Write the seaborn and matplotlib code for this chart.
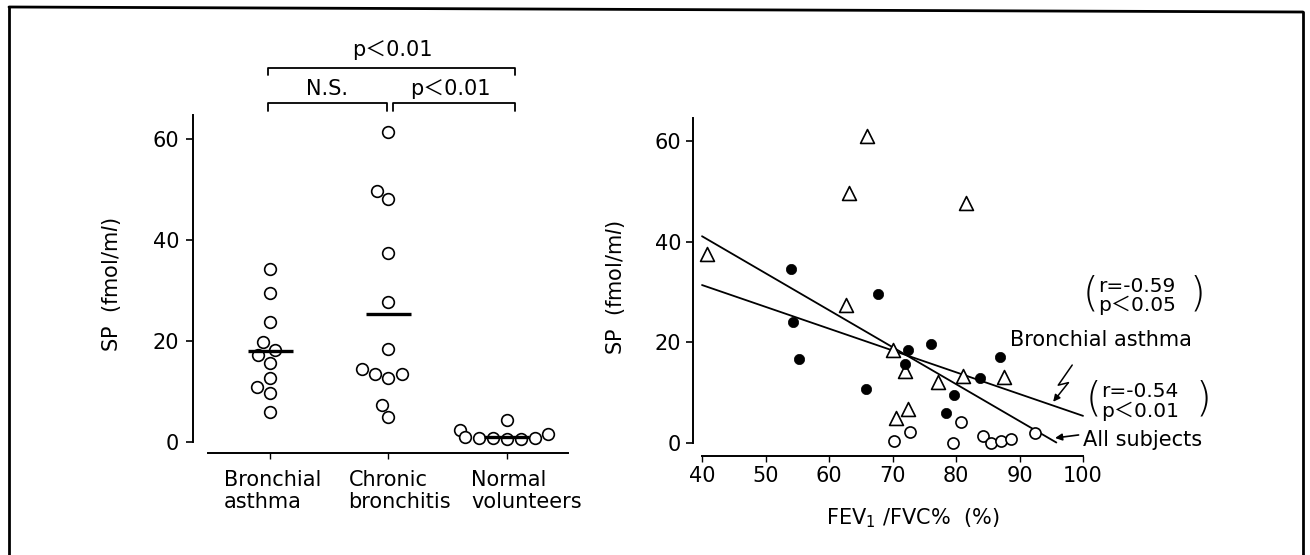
import matplotlib
matplotlib.use("Agg")
import matplotlib.pyplot as plt
from matplotlib.lines import Line2D
import matplotlib.transforms as mtransforms
import numpy as np
import pandas as pd
import seaborn as sns

# ---------------- data ----------------
categories = ["Bronchial\nasthma", "Chronic\nbronchitis", "Normal\nvolunteers"]
asthma_sp = [34.2, 29.6, 23.8, 19.8, 18.2, 17.2, 15.7, 12.7, 10.9, 9.8, 5.9]
bronchitis_sp = [61.3, 49.7, 48.2, 37.4, 27.7, 18.4, 14.5, 13.4, 13.4, 12.7, 7.3, 5.0]
normal_sp = [4.3, 2.3, 1.5, 1.0, 0.8, 0.7, 0.7, 0.6, 0.5]
group_means = [18.0, 25.3, 1.0]

# scatter: FEV1/FVC% vs SP
asthma_fev = [54.0, 54.3, 55.2, 65.8, 67.7, 72.4, 71.9, 76.1, 78.5, 79.7, 83.7, 86.9]
asthma_sp2 = [34.5, 24.0, 16.7, 10.8, 29.6, 18.5, 15.7, 19.6, 5.9, 9.6, 13.0, 17.0]
bronchitis_fev = [66.0, 63.2, 81.5, 40.8, 62.7, 70.0, 72.0, 77.2, 81.1, 87.5, 70.6, 72.5]
bronchitis_sp2 = [61.1, 49.6, 47.7, 37.5, 27.4, 18.5, 14.4, 12.1, 13.3, 13.1, 5.0, 6.8]
normal_fev = [70.3, 72.7, 79.6, 80.8, 84.3, 85.5, 87.1, 88.7, 92.4]
normal_sp2 = [0.5, 2.2, 0.1, 4.2, 1.3, 0.1, 0.5, 0.7, 2.0]

fit_all_x = [40.0, 95.8]
fit_all_y = [41.1, 0.1]
fit_asthma_x = [40.0, 100.0]
fit_asthma_y = [31.4, 5.4]

y_ticks = [0, 20, 40, 60]
x_ticks = [40, 50, 60, 70, 80, 90, 100]

# ---------------- style ----------------
sns.set_style("ticks")
plt.rcParams["font.family"] = ["DejaVu Sans", "Noto Sans CJK JP"]
plt.rcParams["mathtext.fontset"] = "dejavusans"
plt.rcParams["text.color"] = "black"
plt.rcParams["axes.labelcolor"] = "black"
plt.rcParams["xtick.color"] = "black"
plt.rcParams["ytick.color"] = "black"
FS = 15

fig = plt.figure(figsize=(13.1, 5.55), dpi=100)
fig.patch.set_facecolor("white")

# ---------------- left panel ----------------
ax1 = fig.add_axes([193 / 1310, 102 / 555, 375 / 1310, 338 / 555])
df = pd.DataFrame({
    "group": [categories[0]] * len(asthma_sp) + [categories[1]] * len(bronchitis_sp)
             + [categories[2]] * len(normal_sp),
    "SP": asthma_sp + bronchitis_sp + normal_sp,
})
sns.swarmplot(data=df, x="group", y="SP", order=categories, ax=ax1,
              color="white", edgecolor="black", linewidth=1.2, size=8.4, zorder=3)
for c in ax1.collections:
    c.set_clip_on(False)
ax1.hlines(group_means, np.arange(3) - 0.19, np.arange(3) + 0.19,
           colors="black", linewidth=2.4, zorder=4)

ax1.set_xlim(-0.65, 2.515)
ax1.set_ylim(-2.18, 64.75)
sns.despine(ax=ax1)
ax1.spines["left"].set_bounds(0, 64.75)
ax1.spines["bottom"].set_bounds(-0.52, 2.515)
for s in ("left", "bottom"):
    ax1.spines[s].set_linewidth(1.4)
    ax1.spines[s].set_color("black")
ax1.set_yticks(y_ticks)
ax1.set_xticks([0, 1, 2])
ax1.set_xticklabels([])
blend = mtransforms.blended_transform_factory(ax1.transData, ax1.transAxes)
for i, (lab, dx) in enumerate(zip(categories, [-0.388, -0.338, -0.304])):
    ax1.text(i + dx, -0.05, lab, transform=blend, ha="left", va="top", color="black",
             fontsize=FS, linespacing=1.1, multialignment="left")
ax1.tick_params(axis="y", labelsize=FS, length=5, width=1.2, pad=5, colors="black")
ax1.tick_params(axis="x", length=4, width=1.0, colors="black")
ax1.set_xlabel("")
ax1.set_ylabel(r"SP  (fmol/m$\mathit{l}$)", fontsize=FS, color="black")
ax1.yaxis.set_label_coords(-0.187, 0.5)
ax1.set_facecolor("none")

# significance brackets
bk = dict(color="black", linewidth=1.3, clip_on=False)
ax1.plot([-0.017, -0.017, 2.068, 2.068], [72.7, 74.1, 74.1, 72.7], **bk)
ax1.plot([-0.017, -0.017, 0.987, 0.987], [65.5, 67.1, 67.1, 65.5], **bk)
ax1.plot([1.038, 1.038, 2.068, 2.068], [65.5, 67.1, 67.1, 65.5], **bk)
ax1.text(1.03, 77.6, "p＜0.01", ha="center", va="center", fontsize=15, color="black")
ax1.text(0.48, 69.8, "N.S.", ha="center", va="center", fontsize=15, color="black")
ax1.text(1.52, 69.8, "p＜0.01", ha="center", va="center", fontsize=15, color="black")

# ---------------- right panel ----------------
ax2 = fig.add_axes([693 / 1310, 99 / 555, 397 / 1310, 338 / 555])
ax2.set_facecolor("none")
sns.lineplot(x=fit_all_x, y=fit_all_y, ax=ax2, color="black", linewidth=1.3)
sns.lineplot(x=fit_asthma_x, y=fit_asthma_y, ax=ax2, color="black", linewidth=1.3)
sns.scatterplot(x=normal_fev, y=normal_sp2, ax=ax2, marker="o", s=64,
                facecolor="white", edgecolor="black", linewidth=1.2, zorder=3)
sns.scatterplot(x=bronchitis_fev, y=bronchitis_sp2, ax=ax2, marker="^", s=100,
                facecolor="white", edgecolor="black", linewidth=1.2, zorder=3)
sns.scatterplot(x=asthma_fev, y=asthma_sp2, ax=ax2, marker="o", s=55,
                color="black", edgecolor="black", linewidth=0.5, zorder=4)
for c in ax2.collections:
    c.set_clip_on(False)

ax2.set_xlim(38.58, 101.1)
ax2.set_ylim(-2.58, 64.6)
sns.despine(ax=ax2)
ax2.spines["left"].set_bounds(0, 64.6)
ax2.spines["bottom"].set_bounds(40, 100)
for s in ("left", "bottom"):
    ax2.spines[s].set_linewidth(1.4)
    ax2.spines[s].set_color("black")
ax2.set_yticks(y_ticks)
ax2.set_xticks(x_ticks)
ax2.tick_params(axis="y", labelsize=FS, length=5, width=1.2, pad=3.5, colors="black")
ax2.tick_params(axis="x", labelsize=FS, length=4, width=1.0, pad=3, colors="black")
ax2.set_ylabel(r"SP  (fmol/m$\mathit{l}$)", fontsize=FS, color="black")
ax2.yaxis.set_label_coords(-0.166, 0.5)
ax2.set_xlabel(r"FEV$_{\mathrm{1}}$ /FVC%  (%)", fontsize=FS, color="black")
ax2.xaxis.set_label_coords(0.554, -0.15)

tk = dict(fontsize=14.5, va="center", ha="left", clip_on=False, color="black")
pk = dict(fontsize=29, va="center", ha="left", clip_on=False, color="black",
          fontweight="light")
ax2.text(100.0, 29.6, "(", **pk)
ax2.text(102.4, 31.1, "r=-0.59", **tk)
ax2.text(102.4, 27.3, "p＜0.05", **tk)
ax2.text(116.8, 29.6, ")", **pk)
ax2.text(88.5, 20.5, "Bronchial asthma", fontsize=FS, va="center", ha="left", color="black")
ax2.text(100.4, 8.7, "(", **pk)
ax2.text(102.9, 10.2, "r=-0.54", **tk)
ax2.text(102.9, 6.3, "p＜0.01", **tk)
ax2.text(117.8, 8.7, ")", **pk)
ax2.text(100.0, 0.6, "All subjects", fontsize=FS, va="center", ha="left",
         clip_on=False, color="black")

# arrows
ax2.annotate("", xy=(95.6, 1.0), xytext=(99.3, 1.6),
             arrowprops=dict(arrowstyle="-|>", color="black", lw=1.2,
                             mutation_scale=10, shrinkA=0, shrinkB=0),
             annotation_clip=False)
ax2.plot([98.3, 96.1, 97.7], [15.5, 11.5, 12.0], color="black", linewidth=1.1, clip_on=False)
ax2.annotate("", xy=(95.3, 8.2), xytext=(97.7, 12.0),
             arrowprops=dict(arrowstyle="-|>", color="black", lw=1.1,
                             mutation_scale=10, shrinkA=0, shrinkB=0),
             annotation_clip=False)

# ---------------- frame ----------------
fr = dict(color="black", linewidth=2.0, transform=fig.transFigure)
fig.add_artist(Line2D([9 / 1310, 9 / 1310], [0.0, 1 - 7 / 555], **fr))
fig.add_artist(Line2D([9 / 1310, 1303 / 1310], [1 - 7 / 555, 1 - 12 / 555], **fr))
fig.add_artist(Line2D([1303 / 1310, 1303 / 1310], [1 - 12 / 555, 0.0], **fr))

fig.savefig("out.png", dpi=100)
